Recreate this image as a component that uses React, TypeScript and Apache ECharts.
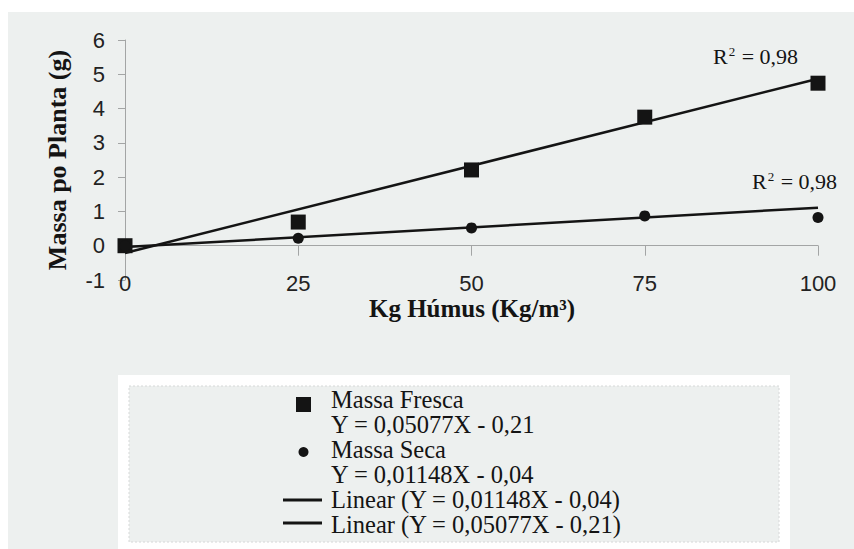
import React, { useEffect, useRef } from "react";
import * as echarts from "echarts";

// ---- data ----
const doses = [0, 25, 50, 75, 100];
const massaFresca = [0, 0.69, 2.21, 3.75, 4.74];
const massaSeca = [0, 0.22, 0.52, 0.87, 0.82];
const trendX = [0, 100];
const trendFresca = [-0.21, 4.87];
const trendSeca = [-0.04, 1.11];
const xTicks = { min: 0, max: 100, interval: 25 };
const yTicks = { min: -1, max: 6, interval: 1 };
const r2Labels = ["0,98", "0,98"];
const legendLines = [
  "Massa Fresca",
  "Y = 0,05077X - 0,21",
  "Massa Seca",
  "Y = 0,01148X - 0,04",
  "Linear (Y = 0,01148X - 0,04)",
  "Linear (Y = 0,05077X - 0,21)",
];
const yTitle = "Massa po Planta (g)";
const xTitle = "Kg Húmus (Kg/m³)";

const INK = "#141414";
const BG = "#edf0ef";
const AXIS = "#a3a5a5";
const SERIF = "'Liberation Serif', 'Times New Roman', serif";
const SANS = "'Liberation Sans', Arial, sans-serif";

export default function App() {
  const ref = useRef<HTMLDivElement>(null);
  useEffect(() => {
    const chart = echarts.init(ref.current!, null, { renderer: "svg" });
    const legendYs = [399.5, 424.5, 449.5, 474.5, 499.5, 524.5];
    const r2Rich = {
      r: { fontSize: 22, fontFamily: SERIF, fill: INK, color: INK },
      s: { fontSize: 13, fontFamily: SERIF, fill: INK, color: INK, verticalAlign: "top", padding: [0, 1, 9, 1] },
    };
    chart.setOption({
      animation: false,
      backgroundColor: "transparent",
      grid: { left: 125, right: 36, top: 40, bottom: 269, containLabel: false },
      xAxis: {
        type: "value",
        min: xTicks.min,
        max: xTicks.max,
        interval: xTicks.interval,
        axisLine: { show: true, onZero: true, lineStyle: { color: AXIS, width: 1 } },
        axisTick: { show: true, length: 10, lineStyle: { color: AXIS } },
        axisLabel: { margin: 3, verticalAlign: "middle", fontSize: 22, fontFamily: SANS, color: "#222" },
        splitLine: { show: false },
      },
      yAxis: {
        type: "value",
        min: yTicks.min,
        max: yTicks.max,
        interval: yTicks.interval,
        axisLine: { show: true, onZero: false, lineStyle: { color: AXIS, width: 1 } },
        axisTick: { show: true, length: 7, lineStyle: { color: AXIS } },
        axisLabel: { margin: 20, fontSize: 22, fontFamily: SANS, color: "#222", padding: [5, 0, 0, 0] },
        splitLine: { show: false },
      },
      series: [
        {
          name: "Linear (Y = 0,05077X - 0,21)",
          type: "line",
          data: trendX.map((x, i) => [x, trendFresca[i]]),
          showSymbol: false,
          lineStyle: { color: INK, width: 2.5 },
          z: 3,
        },
        {
          name: "Linear (Y = 0,01148X - 0,04)",
          type: "line",
          data: trendX.map((x, i) => [x, trendSeca[i]]),
          showSymbol: false,
          lineStyle: { color: INK, width: 2.5 },
          z: 3,
        },
        {
          name: "Massa Fresca",
          type: "scatter",
          symbol: "rect",
          symbolSize: 15,
          data: doses.map((x, i) => [x, massaFresca[i]]),
          itemStyle: { color: INK, opacity: 1 },
          z: 4,
        },
        {
          name: "Massa Seca",
          type: "scatter",
          symbol: "circle",
          symbolSize: 11,
          data: doses.map((x, i) => [x, massaSeca[i]]),
          itemStyle: { color: INK, opacity: 1 },
          z: 4,
        },
      ],
      graphic: [
        { type: "rect", z: -100, shape: { x: 8, y: 12, width: 846, height: 537 }, style: { fill: BG } },
        {
          type: "text",
          x: 57,
          y: 160,
          rotation: Math.PI / 2,
          style: { text: yTitle, font: `bold 26px ${SERIF}`, fill: INK, align: "center", verticalAlign: "middle" },
        },
        {
          type: "text",
          x: 472,
          y: 308,
          style: { text: xTitle, font: `bold 25px ${SERIF}`, fill: INK, align: "center", verticalAlign: "middle", lineHeight: 22 },
        },
        {
          type: "text",
          x: 713,
          y: 56,
          style: { text: `{r|R}{s|2}{r| = ${r2Labels[0]}}`, rich: r2Rich, align: "left", verticalAlign: "middle" },
        },
        {
          type: "text",
          x: 752,
          y: 181,
          style: { text: `{r|R}{s|2}{r| = ${r2Labels[1]}}`, rich: r2Rich, align: "left", verticalAlign: "middle" },
        },
        // legend box
        { type: "rect", z: 50, shape: { x: 118, y: 375, width: 672, height: 180 }, style: { fill: "#ffffff" } },
        {
          type: "rect",
          z: 51,
          shape: { x: 129, y: 386, width: 650, height: 156 },
          style: { fill: BG, stroke: "#d6d8d8", lineWidth: 1, lineDash: [2, 2] },
        },
        { type: "rect", z: 52, shape: { x: 296, y: 397, width: 15, height: 15 }, style: { fill: INK } },
        { type: "circle", z: 52, shape: { cx: 303.5, cy: 452, r: 5 }, style: { fill: INK } },
        { type: "line", z: 52, shape: { x1: 283, y1: 500, x2: 322, y2: 500 }, style: { stroke: INK, lineWidth: 3 } },
        { type: "line", z: 52, shape: { x1: 283, y1: 523, x2: 322, y2: 523 }, style: { stroke: INK, lineWidth: 3 } },
        ...legendLines.map((t, i) => ({
          type: "text",
          z: 52,
          x: 331,
          y: legendYs[i],
          style: { text: t, font: `24.5px ${SERIF}`, fill: INK, align: "left", verticalAlign: "middle", lineHeight: 22 },
        })),
      ],
    });
    return () => chart.dispose();
  }, []);
  return <div ref={ref} style={{ position: "absolute", left: 0, top: 0, width: 854, height: 549 }} />;
}
